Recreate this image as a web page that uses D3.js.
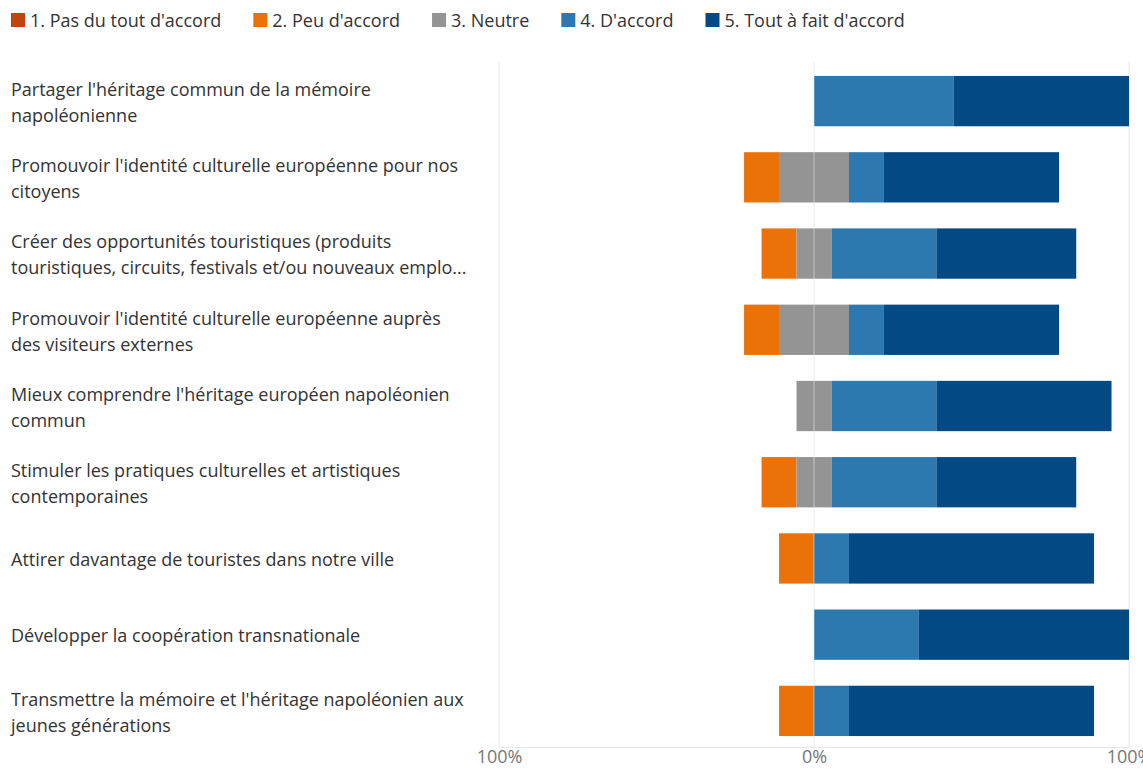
<!DOCTYPE html>
<html><head><meta charset="utf-8">
<script src="https://cdn.jsdelivr.net/npm/d3@7"></script>
<style>
html,body{margin:0;padding:0;background:#fff;overflow:hidden;}
svg{display:block;font-family:"Open Sans","Noto Sans",sans-serif;}
</style></head>
<body><svg id="chart" width="1143" height="769"></svg>
<script>
const categories = [
  "Partager l'héritage commun de la mémoire\nnapoléonienne",
  "Promouvoir l'identité culturelle européenne pour nos\ncitoyens",
  "Créer des opportunités touristiques (produits\ntouristiques, circuits, festivals et/ou nouveaux emplo...",
  "Promouvoir l'identité culturelle européenne auprès\ndes visiteurs externes",
  "Mieux comprendre l'héritage européen napoléonien\ncommun",
  "Stimuler les pratiques culturelles et artistiques\ncontemporaines",
  "Attirer davantage de touristes dans notre ville",
  "Développer la coopération transnationale",
  "Transmettre la mémoire et l'héritage napoléonien aux\njeunes générations"
];
const seriesNames = ["1. Pas du tout d'accord","2. Peu d'accord","3. Neutre","4. D'accord","5. Tout à fait d'accord"];
const seriesColors = ["#c1440e","#eb7109","#949494","#2d79af","#034984"];
const pasDuTout = [0,0,0,0,0,0,0,0,0];
const peu       = [0,11.1,11.1,11.1,0,11.1,11.1,0,11.1];
const neutre    = [0,22.2,11.1,22.2,11.1,11.1,0,0,0];
const accord    = [44.4,11.1,33.3,11.1,33.3,33.3,11.1,33.3,11.1];
const toutAFait = [55.6,55.6,44.4,55.6,55.6,44.4,77.8,66.7,77.8];
const tickValues = [-100,0,100];
const tickLabels = ["100%","0%","100%"];

const FS = 18;
const svg = d3.select("#chart");
const x = d3.scaleLinear().domain([-100,100]).range([499,1129]);
const y = d3.scaleBand().domain(d3.range(categories.length)).range([63,749]).paddingInner(0.34).paddingOuter(0.17);

const segs = [];
categories.forEach((c,i)=>{
  const vals = [pasDuTout[i],peu[i],neutre[i],accord[i],toutAFait[i]];
  let start = -(vals[0]+vals[1]+vals[2]/2);
  vals.forEach((v,k)=>{
    if (v>0) segs.push({i,k,x0:start,x1:start+v});
    start += v;
  });
});

svg.append("g").selectAll("line").data(tickValues).join("line")
  .attr("x1",d=>x(d)).attr("x2",d=>x(d)).attr("y1",62).attr("y2",747.5)
  .attr("stroke","#e6e6e6").attr("stroke-width",1);
svg.append("line").attr("x1",x(-100)).attr("x2",x(100)).attr("y1",747.5).attr("y2",747.5)
  .attr("stroke","#e6e6e6").attr("stroke-width",1);

svg.append("g").selectAll("rect").data(segs).join("rect")
  .attr("x",d=>x(d.x0)).attr("width",d=>x(d.x1)-x(d.x0))
  .attr("y",d=>y(d.i)).attr("height",y.bandwidth())
  .attr("fill",d=>seriesColors[d.k]);

svg.append("line").attr("x1",x(0)).attr("x2",x(0)).attr("y1",62).attr("y2",747)
  .attr("stroke","#ffffff").attr("stroke-opacity",0.45).attr("stroke-width",1);

const axis = d3.axisBottom(x).tickValues(tickValues).tickFormat((d,i)=>tickLabels[i]).tickSize(0);
const ax = svg.append("g").attr("transform","translate(0,748)").call(axis);
ax.select(".domain").remove();
ax.selectAll("text").attr("font-size",FS).attr("fill","#777").attr("y",0).attr("dy",0)
  .attr("transform","translate(0,15)")
  .attr("font-family","'Open Sans','Noto Sans',sans-serif");

const lab = svg.append("g").selectAll("text").data(categories).join("text")
  .attr("x",11).attr("font-size",FS).attr("fill","#333");
lab.each(function(c,i){
  const lines = c.split("\n");
  const cy = y(i)+y.bandwidth()/2 + 1.5;
  const lh = 26;
  const t = d3.select(this);
  lines.forEach((l,j)=>{
    t.append("tspan").attr("x",11)
     .attr("y",cy + (j-(lines.length-1)/2)*lh).attr("dy","0.35em").text(l);
  });
});

const leg = svg.append("g");
let lx = 11;
seriesNames.forEach((n,k)=>{
  leg.append("rect").attr("x",lx).attr("y",13).attr("width",14).attr("height",14).attr("fill",seriesColors[k]);
  const t = leg.append("text").attr("x",lx+19).attr("y",20.5).attr("dy","0.35em")
    .attr("font-size",FS).attr("fill","#333").text(n);
  lx += 19 + t.node().getComputedTextLength() + 32;
});
</script></body></html>
